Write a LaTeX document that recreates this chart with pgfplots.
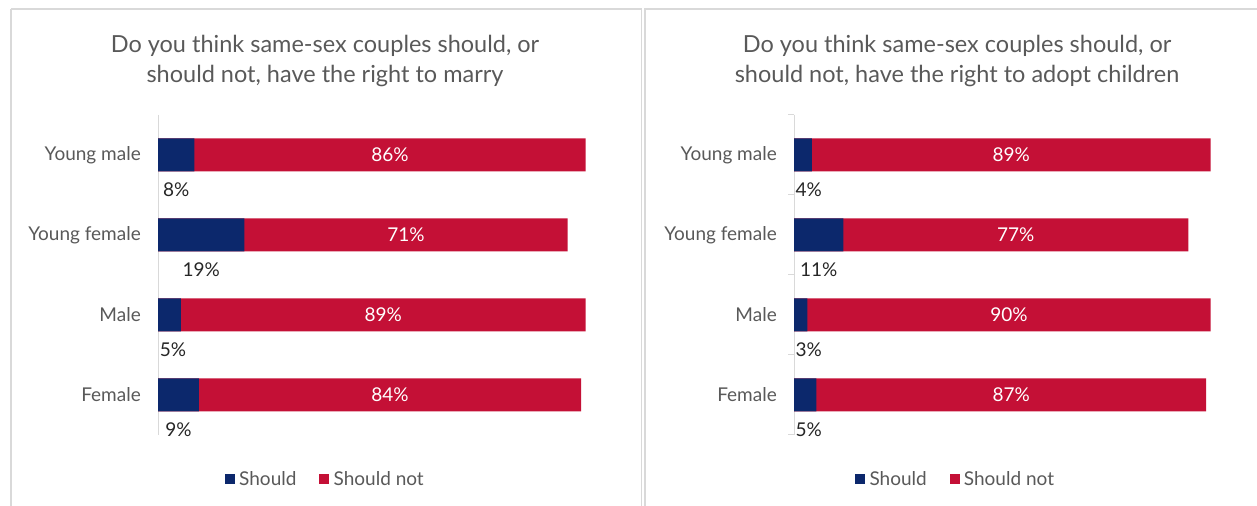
\documentclass[border=0pt]{standalone}
\usepackage{pgfplots}
\pgfplotsset{compat=1.18}
\usepackage{pgfplotstable}
\usepackage{fontspec}
\setmainfont{Lato}
\definecolor{navy}{RGB}{12,40,108}
\definecolor{crimson}{RGB}{196,16,54}
\definecolor{txtgray}{RGB}{89,89,89}
\definecolor{framegray}{RGB}{217,217,217}

\pgfplotstableread{
idx should shouldnot
0 8 86
1 19 71
2 5 89
3 9 84
}\marry
\pgfplotstableread{
idx should shouldnot
0 4 89
1 11 77
2 3 90
3 5 87
}\adopt

\newcommand{\lblfont}{\fontsize{19bp}{22bp}\selectfont}
\pgfplotsset{
  panel/.style={
    anchor=south west,
    scale only axis, width=455bp, height=320bp,
    xmin=0, xmax=100, ymin=-0.5, ymax=3.5, y dir=reverse,
    hide x axis,
    axis y line*=left,
    y axis line style={draw=framegray, line width=1bp},
    ytick={0,1,2,3},
    yticklabels={Young male, Young female, Male, Female},
    major tick length=0pt,
    yticklabel style={font=\lblfont, text=txtgray, inner sep=0pt, xshift=-17bp},
    clip=false,
    /pgf/number format/assume math mode=true,
    title style={font=\fontsize{23.5bp}{30bp}\selectfont, text=txtgray, align=center, anchor=center},
    legend style={draw=none, fill=none, anchor=center, legend columns=2,
      font=\lblfont, text=txtgray,
      /tikz/every even column/.append style={column sep=20bp},
      nodes={inner sep=3bp}},
    legend cell align=left,
  },
  redbar/.style={xbar, bar width=33bp, bar shift=0pt, fill=crimson, draw=none, forget plot},
  bluebar/.style={xbar, bar width=33bp, bar shift=0pt, fill=navy, draw=none, forget plot},
  redlab/.style={draw=none, mark=none, forget plot, point meta=explicit,
    nodes near coords={\pgfmathprintnumber{\pgfplotspointmeta}\%},
    nodes near coords style={anchor=center, text=white, font=\lblfont, inner sep=0pt}},
  bluelab/.style={draw=none, mark=none, forget plot, point meta=explicit,
    nodes near coords={\pgfmathprintnumber{\pgfplotspointmeta}\%},
    nodes near coords style={anchor=center, text=black!85, font=\lblfont, inner sep=0pt}},
}

\begin{document}
\begin{tikzpicture}[x=1bp,y=1bp]
\useasboundingbox (0,0) rectangle (1257,506);
\clip (0,0) rectangle (1257,506);
\draw[framegray, line width=1.5bp] (11,497) -- (641.5,497) -- (641.5,-10);
\draw[framegray, line width=1.5bp] (11,497) -- (11,-10);
\draw[framegray, line width=1.5bp] (645,-10) -- (645,497) -- (1270,497);

\begin{axis}[panel, at={(158bp,71bp)}, width=455bp,
  title={Do you think same-sex couples should, or\\should not, have the right to marry},
  title style={at={(0.367,1.15)}},
  legend style={at={(0.369,-0.1375)}}]
\addplot[redbar] table[x expr=\thisrow{should}+\thisrow{shouldnot}, y=idx]{\marry};
\addplot[bluebar] table[x=should, y=idx]{\marry};
\addplot[redlab] table[x expr=\thisrow{should}+\thisrow{shouldnot}/2, y=idx, meta=shouldnot]{\marry};
\addplot[bluelab] table[x expr={max(\thisrow{should}/2,3.3)}, y expr=\thisrow{idx}+0.43, meta=should]{\marry};
\addlegendimage{legend image code/.code={\fill[navy] (0bp,-4.5bp) rectangle (9bp,4.5bp); \path[draw=none,fill=none] (0bp,0bp) -- (11bp,0bp);}}
\addlegendentry{Should}
\addlegendimage{legend image code/.code={\fill[crimson] (0bp,-4.5bp) rectangle (9bp,4.5bp); \path[draw=none,fill=none] (0bp,0bp) -- (11bp,0bp);}}
\addlegendentry{Should not}
\end{axis}

\begin{axis}[panel, at={(794bp,71bp)}, width=448bp,
  title={Do you think same-sex couples should, or\\should not, have the right to adopt children},
  title style={at={(0.364,1.15)}},
  legend style={at={(0.362,-0.1375)}},
  minor ytick={-0.5,0.5,1.5,2.5,3.5},
  minor tick length=6bp, tick align=outside,
  minor y tick style={draw=framegray, line width=1bp}]
\addplot[redbar] table[x expr=\thisrow{should}+\thisrow{shouldnot}, y=idx]{\adopt};
\addplot[bluebar] table[x=should, y=idx]{\adopt};
\addplot[redlab] table[x expr=\thisrow{should}+\thisrow{shouldnot}/2, y=idx, meta=shouldnot]{\adopt};
\addplot[bluelab] table[x expr={max(\thisrow{should}/2,3.3)}, y expr=\thisrow{idx}+0.43, meta=should]{\adopt};
\addlegendimage{legend image code/.code={\fill[navy] (0bp,-4.5bp) rectangle (9bp,4.5bp); \path[draw=none,fill=none] (0bp,0bp) -- (11bp,0bp);}}
\addlegendentry{Should}
\addlegendimage{legend image code/.code={\fill[crimson] (0bp,-4.5bp) rectangle (9bp,4.5bp); \path[draw=none,fill=none] (0bp,0bp) -- (11bp,0bp);}}
\addlegendentry{Should not}
\end{axis}
\end{tikzpicture}
\end{document}
